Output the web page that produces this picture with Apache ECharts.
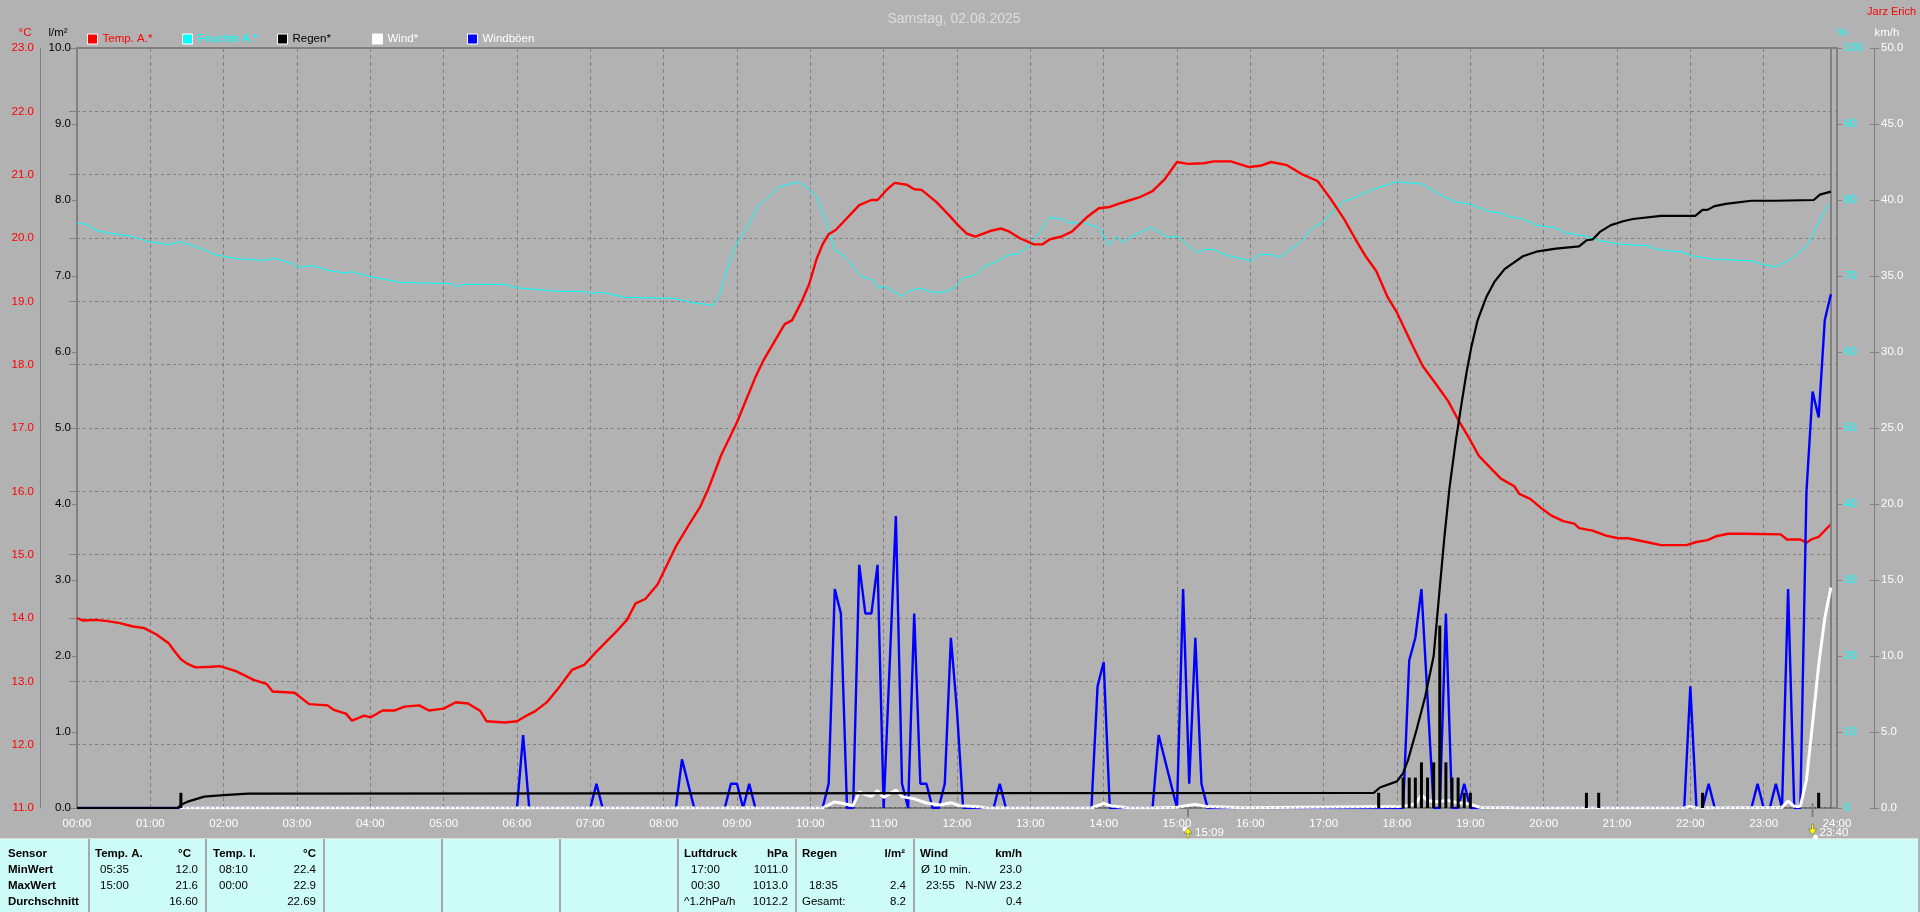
<!DOCTYPE html>
<html><head><meta charset="utf-8">
<style>html,body{margin:0;padding:0;background:#b2b2b2;overflow:hidden}#c{width:1920px;height:912px}</style>
<script src="https://cdn.jsdelivr.net/npm/echarts@6/dist/echarts.min.js"></script>
</head><body><div id="c"></div>
<script>
const chartTitle='Samstag, 02.08.2025';
const authorName='Jarz Erich';
const seriesNames=['Temp. A.*','Feuchte A.*','Regen*','Wind*','Windböen'];
const tempTimes=[0,5,15,25,35,45,55,65,75,80,85,90,97,110,117,130,145,155,160,178,190,205,210,220,225,235,240,250,260,268,280,288,300,310,320,330,335,350,360,367,375,385,395,405,415,425,440,450,457,465,475,490,500,510,517,527,540,548,555,562,579,585,593,599,605,610,615,621,640,650,655,663,669,679,685,691,703,714,721,728,735,747,756,763,771,783,790,796,805,814,827,836,845,852,862,869,880,890,900,909,922,930,944,959,968,977,990,1003,1015,1026,1037,1046,1054,1063,1072,1080,1093,1101,1112,1122,1130,1139,1147,1158,1165,1176,1180,1189,1199,1206,1216,1225,1229,1240,1251,1261,1269,1284,1296,1317,1325,1334,1341,1351,1364,1394,1399,1410,1415,1419,1425,1435];
const tempValues=[14.0,13.96,13.97,13.95,13.92,13.87,13.84,13.74,13.6,13.47,13.35,13.28,13.22,13.23,13.24,13.16,13.02,12.96,12.84,12.82,12.64,12.62,12.55,12.49,12.38,12.46,12.43,12.54,12.54,12.6,12.62,12.54,12.57,12.67,12.65,12.53,12.37,12.35,12.37,12.45,12.53,12.68,12.92,13.18,13.26,13.47,13.76,13.97,14.23,14.3,14.53,15.13,15.45,15.76,16.06,16.57,17.09,17.47,17.8,18.08,18.64,18.7,19.0,19.27,19.66,19.9,20.06,20.13,20.52,20.6,20.6,20.77,20.87,20.84,20.77,20.76,20.57,20.35,20.2,20.07,20.02,20.11,20.15,20.1,20.0,19.9,19.9,19.98,20.02,20.1,20.34,20.47,20.49,20.54,20.6,20.64,20.74,20.93,21.2,21.17,21.18,21.21,21.21,21.12,21.14,21.2,21.15,21.0,20.9,20.61,20.29,19.98,19.72,19.48,19.08,18.82,18.29,17.98,17.69,17.42,17.13,16.84,16.56,16.34,16.2,16.08,15.96,15.88,15.72,15.62,15.53,15.49,15.42,15.38,15.3,15.26,15.26,15.2,15.15,15.15,15.2,15.23,15.29,15.33,15.33,15.32,15.24,15.24,15.19,15.24,15.28,15.48];
const humTimes=[0,7,16,28,44,59,75,85,101,114,131,153,162,177,181,193,206,220,225,238,264,307,311,316,351,359,394,415,421,424,431,449,488,504,521,526,531,537,546,557,575,590,599,605,612,620,627,635,641,651,656,661,675,681,690,700,710,718,725,735,741,753,762,770,780,796,806,811,824,836,844,851,856,863,879,892,901,916,923,930,941,961,967,976,984,1000,1011,1018,1037,1042,1062,1080,1101,1116,1129,1139,1156,1165,1171,1183,1194,1210,1218,1235,1246,1264,1285,1292,1314,1321,1339,1370,1379,1390,1401,1415,1420,1431,1435];
const humValues=[76.93,76.84,75.96,75.61,75.26,74.5,74.16,74.5,73.64,72.76,72.28,72.06,72.32,71.58,71.14,71.36,70.7,70.4,70.57,70.0,69.16,69.0,68.6,68.9,68.9,68.46,67.98,67.98,67.63,67.85,67.8,67.19,67.06,66.49,66.14,67.7,70.35,73.4,75.83,79.1,81.75,82.37,81.5,80.4,77.6,73.4,72.76,71.2,70.04,69.47,68.37,68.68,67.28,68.07,68.37,67.85,67.9,68.5,69.7,70.13,71.14,71.97,72.76,72.9,74.1,77.7,77.5,77.0,77.0,76.4,74.1,75.2,74.4,75.2,76.4,75.1,75.2,73.1,73.5,73.5,72.7,72.0,72.8,72.85,72.5,74.3,76.3,77.0,79.9,80.1,81.5,82.4,82.1,80.6,79.7,79.5,78.46,78.3,77.8,77.5,76.7,76.3,75.7,75.2,74.65,74.16,74.0,73.5,73.15,72.67,72.2,72.0,71.5,71.2,72.1,73.9,75.4,78.9,79.5];
const rainTimes=[0,82,86,90,104,120,140,1061,1066,1080,1085,1089,1096,1103,1110,1115,1119,1123,1128,1133,1137,1141,1146,1153,1160,1168,1175,1183,1194,1210,1229,1235,1240,1246,1255,1265,1273,1296,1324,1330,1334,1340,1349,1370,1390,1421,1426,1435];
const rainValues=[0,0,0.05,0.08,0.15,0.17,0.19,0.2,0.27,0.35,0.46,0.63,1.03,1.46,2.0,2.9,3.6,4.22,4.82,5.34,5.74,6.08,6.42,6.72,6.93,7.09,7.17,7.26,7.32,7.36,7.39,7.47,7.48,7.58,7.67,7.72,7.75,7.79,7.79,7.87,7.87,7.92,7.95,7.99,7.99,8.0,8.07,8.11];
const rainBarTimes=[85,1065,1085,1090,1095,1100,1105,1110,1115,1120,1125,1130,1135,1140,1235,1245,1330,1425];
const rainBarValues=[0.2,0.2,0.4,0.4,0.4,0.6,0.4,0.6,2.4,0.6,0.4,0.4,0.2,0.2,0.2,0.2,0.2,0.2];
const rainDotTimes=[84,1435];
const rainDotValues=[0,0];
const windTimes=[84,610,615,620,625,635,640,645,650,655,660,670,675,685,695,706,715,722,737,745,830,840,846,856,860,880,900,915,924,953,1085,1095,1100,1105,1115,1120,1130,1140,1144,1148,1173,1180,1315,1320,1325,1395,1400,1405,1410,1415,1420,1425,1430,1435];
const windValues=[0,0,0.2,0.4,0.33,0.15,1.07,0.88,0.77,1.14,0.7,1.18,0.75,0.6,0.33,0.2,0.35,0.15,0.09,0,0,0.3,0.13,0.05,0,0,0.05,0.24,0.1,0.02,0.1,0.26,0.85,0.48,0.4,0.52,0.35,0.26,0.13,0.04,0.02,0,0,0.1,0,0.04,0.46,0.1,0.1,1.84,5.57,9.4,12.5,14.5];
const gustTimes=[0,360,365,370,420,425,430,490,495,505,530,535,540,545,550,555,610,615,620,625,630,635,640,645,650,655,660,670,675,680,685,690,695,700,705,710,715,720,725,750,755,760,830,835,840,845,880,885,900,905,910,915,920,925,1085,1090,1095,1100,1105,1110,1115,1120,1125,1130,1135,1140,1315,1320,1325,1330,1335,1340,1370,1375,1380,1385,1390,1395,1400,1405,1410,1415,1420,1425,1430,1435];
const gustValues=[0,0,4.8,0,0,1.6,0,0,3.2,0,0,1.6,1.6,0,1.6,0,0,1.6,14.4,12.8,0,0,16.0,12.8,12.8,16.0,0,19.2,1.6,0,12.8,1.6,1.6,0,0,1.6,11.2,6.4,0,0,1.6,0,0,8.0,9.6,0,0,4.8,0,14.4,1.6,11.2,1.6,0,0,9.7,11.2,14.4,7.2,0,0,12.8,0,0,1.6,0,0,8.0,0,0,1.6,0,0,1.6,0,0,1.6,0,14.4,0,0,20.8,27.4,25.7,32.1,33.8];
const nowTime=[1435];
const sunTimes=[909,1420];
const sunLabels=['15:09','23:40'];
const unitLabels=['°C','l/m²','%','km/h'];
const tableRowHeads=['Sensor','MinWert','MaxWert','Durchschnitt'];
const tempAHead=['Temp. A.','°C'];const tempATimes=['05:35','15:00'];const tempAVals=['12.0','21.6','16.60'];
const tempIHead=['Temp. I.','°C'];const tempITimes=['08:10','00:00'];const tempIVals=['22.4','22.9','22.69'];
const pressHead=['Luftdruck','hPa'];const pressLeft=['17:00','00:30','^1.2hPa/h'];const pressVals=['1011.0','1013.0','1012.2'];
const rainHead=['Regen','l/m²'];const rainLeft=['','18:35','Gesamt:'];const rainVals=['','2.4','8.2'];
const windHead=['Wind','km/h'];const windLeft=['Ø 10 min.','23:55',''];const windVals=['23.0','N-NW 23.2','0.4'];

const GRID='#808080', FONT='"Liberation Sans",Arial,sans-serif', BG='#b2b2b2', PANEL='#ccfbf8';
const zip=(a,b)=>a.map((t,i)=>[t,b[i]]);
const hhmm=v=>{const h=Math.floor(v/60);return String(h).padStart(2,'0')+':'+String(v%60).padStart(2,'0')};
const colors=['#ff0000','#00ffff','#000000','#ffffff','#0000ff'];
const chart=echarts.init(document.getElementById('c'));
const legendLeft=[87,182,277,372,467];
const legendText=['#ff0000','#00ffff','#000000','#ffffff','#ffffff'];
function line(name,t,v,yi,color,w,z,extra){return Object.assign({name,type:'line',data:zip(t,v),yAxisIndex:yi,symbol:'none',showSymbol:false,smooth:false,animation:false,z,
  lineStyle:{color,width:w},itemStyle:{color}},extra||{})}
chart.setOption({
  animation:false,backgroundColor:BG,
  title:{text:chartTitle,left:949,top:7,textAlign:'center',textStyle:{color:'#dedede',fontSize:14,fontWeight:'normal',fontFamily:FONT}},
  legend:seriesNames.map((n,i)=>({data:[n],left:legendLeft[i],top:33,icon:'rect',itemWidth:10,itemHeight:10,itemGap:5,padding:0,selectedMode:false,
    itemStyle:{borderColor:'#fff',borderWidth:1},textStyle:{color:legendText[i],fontSize:11.5,fontFamily:FONT,padding:[0,0,0,0]}})),
  grid:{left:77,top:48,width:1760,height:760,show:true,borderColor:GRID,borderWidth:2,backgroundColor:BG,containLabel:false},
  xAxis:{type:'value',min:0,max:1440,interval:60,axisLine:{show:false},axisTick:{show:false},
    axisLabel:{color:'#fff',fontSize:11.5,fontFamily:FONT,margin:10,formatter:hhmm,showMinLabel:true,showMaxLabel:true},
    splitLine:{show:true,lineStyle:{color:GRID,type:[4,3],width:1}}},
  yAxis:[
    {type:'value',position:'left',offset:33,min:11,max:23,interval:1,axisLine:{show:false},axisTick:{show:true,length:8,lineStyle:{color:GRID}},
      axisLabel:{color:'#ff0000',fontSize:11.5,fontFamily:FONT,margin:10,formatter:v=>v.toFixed(1)},
      splitLine:{show:true,lineStyle:{color:GRID,type:[3,3],width:1}}},
    {type:'value',position:'left',min:0,max:10,interval:1,axisLine:{show:false},axisTick:{show:true,length:5,lineStyle:{color:GRID}},
      axisLabel:{color:'#000',fontSize:11.5,fontFamily:FONT,margin:6,formatter:v=>v.toFixed(1)},splitLine:{show:false}},
    {type:'value',position:'right',min:0,max:100,interval:10,axisLine:{show:false},axisTick:{show:true,length:5,lineStyle:{color:GRID}},
      axisLabel:{color:'#00ffff',fontSize:11.5,fontFamily:FONT,margin:7},splitLine:{show:false}},
    {type:'value',position:'right',offset:33,min:0,max:50,interval:5,axisLine:{show:false},axisTick:{show:true,length:9,lineStyle:{color:GRID}},
      axisLabel:{color:'#fff',fontSize:11.5,fontFamily:FONT,margin:11,formatter:v=>v.toFixed(1)},splitLine:{show:false}},
    {type:'value',position:'left',offset:37,min:11,max:23,axisLine:{show:true,lineStyle:{color:GRID,width:1}},axisTick:{show:false},axisLabel:{show:false},splitLine:{show:false}},
    {type:'value',position:'right',offset:37,min:0,max:50,axisLine:{show:true,lineStyle:{color:GRID,width:1}},axisTick:{show:false},axisLabel:{show:false},splitLine:{show:false}}
  ],
  series:[
    line(seriesNames[1],humTimes,humValues,2,colors[1],1,3),
    line(seriesNames[0],tempTimes,tempValues,0,colors[0],2.4,4,{markLine:{silent:true,symbol:'none',animation:false,label:{show:false},lineStyle:{color:GRID,width:2,type:'solid'},data:nowTime.map(t=>({xAxis:t}))}}),
    line(seriesNames[4],gustTimes,gustValues,3,colors[4],2.4,5),
    line(seriesNames[2],rainTimes,rainValues,1,colors[2],2.2,8),
    line(seriesNames[3],windTimes,windValues,3,colors[3],3,7),
    {name:'Regenmenge',type:'bar',data:zip(rainBarTimes,rainBarValues),yAxisIndex:1,barWidth:3,itemStyle:{color:'#000'},animation:false,z:8},
    line('Regen Null',rainDotTimes,rainDotValues,1,'#000000',1,9,{lineStyle:{color:'#000',width:1,type:[1,4]}})
  ]
});

const T=(text,x,y,o)=>({type:'text',silent:true,z:50,style:Object.assign({text,x,y,font:(o&&o.bold?'bold ':'')+((o&&o.size)||11.5)+'px '+FONT,fill:(o&&o.fill)||'#000',textAlign:(o&&o.align)||'left',textVerticalAlign:'middle'})});
const R=(x,y,w,h,fill)=>({type:'rect',silent:true,z:40,shape:{x,y,width:w,height:h},style:{fill}});
const g=[];
g.push(T(authorName,1916,12,{fill:'#ff0000',align:'right',size:11}));
g.push(T(unitLabels[0],25,33,{fill:'#ff0000',align:'center'}));
g.push(T(unitLabels[1],58,33,{fill:'#000',align:'center'}));
g.push(T(unitLabels[2],1842,33,{fill:'#00ffff',align:'center'}));
g.push(T(unitLabels[3],1887,33,{fill:'#fff',align:'center'}));
// table panel
g.push(R(0,838,1918,1,'#dcdcdc'));
g.push(R(0,839,1918,73,PANEL));
[88,205,323,441,559,677,795,913].forEach(x=>g.push(R(x,839,2,73,'#a8a8a8')));
const ROW=[854,870,886,902];
tableRowHeads.forEach((t,i)=>g.push(T(t,8,ROW[i],{bold:true,size:11.5})));
function block(head,xh,xu,xt,xv,lefts,vals,leftRows,valRows){
  g.push(T(head[0],xh,ROW[0],{bold:true}));
  g.push(T(head[1],xu,ROW[0],{bold:true,align:'right'}));
  lefts.forEach((t,i)=>{if(t)g.push(T(t,i===2&&xt.alt?xh:xt.x,ROW[leftRows[i]]))});
  vals.forEach((t,i)=>{if(t)g.push(T(t,xv,ROW[valRows[i]],{align:'right'}))});
}
block(tempAHead,95,191,{x:100},198,tempATimes,tempAVals,[1,2],[1,2,3]);
block(tempIHead,213,316,{x:219},316,tempITimes,tempIVals,[1,2],[1,2,3]);
block(pressHead,684,788,{x:691,alt:true},788,pressLeft,pressVals,[1,2,3],[1,2,3]);
block(rainHead,802,905,{x:809,alt:true},906,rainLeft,rainVals,[1,2,3],[1,2,3]);
block(windHead,920,1022,{x:926},1022,windLeft,windVals,[1,2,3],[1,2,3]);
g.forEach(e=>{if(e.type==='text'&&e.style.text==='Ø 10 min.')e.style.x=921;});
// sunrise/sunset style markers
sunTimes.forEach((t,i)=>{
  const x=chart.convertToPixel({xAxisIndex:0},t);
  g.push(R(x-1,i?803:808,2,i?14:9,GRID));
  g.push(T(sunLabels[i],x+7,833,{fill:'#fff'}));
  const up=i===0;
  g.push({type:'polygon',silent:true,z:45,shape:{points:up?[[x-4,833],[x,828],[x+4,833],[x+1,833],[x+1,838],[x-1,838],[x-1,833]]:[[x-4,829],[x,835],[x+4,829],[x+1,829],[x+1,824],[x-1,824],[x-1,829]]},style:{fill:'#ffff00',stroke:'#555',lineWidth:0.5}});
  g.push({type:'circle',silent:true,z:44,shape:{cx:up?x-3:x+3,cy:up?829:837,r:2.5},style:{fill:'#fff'}});
});
chart.setOption({graphic:g});
</script></body></html>
